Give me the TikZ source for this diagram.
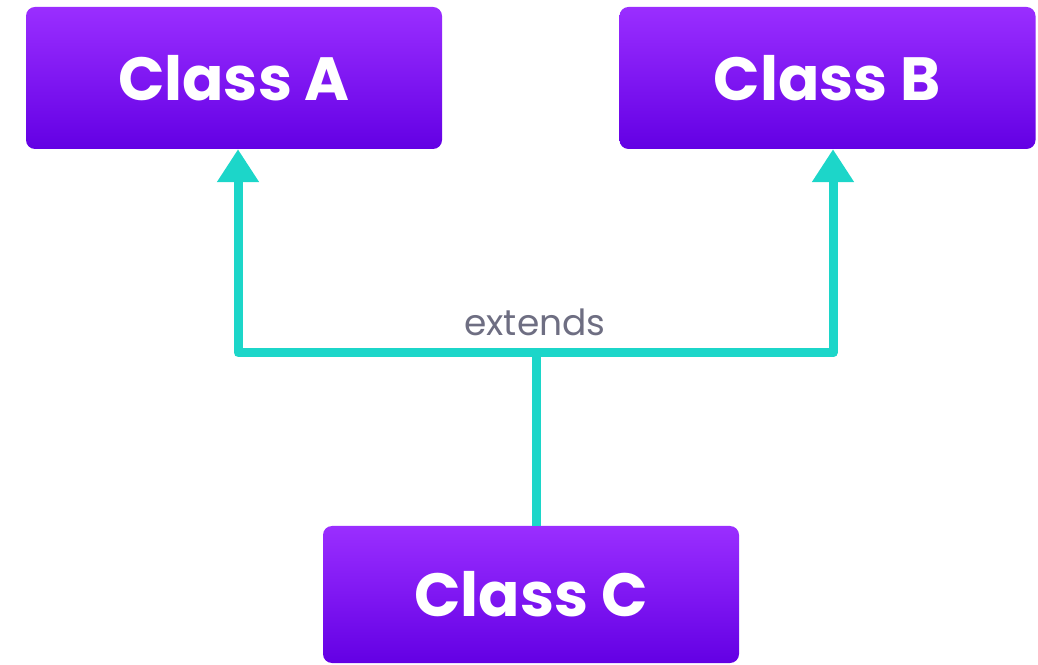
\documentclass[tikz,border=0pt]{standalone}
\usepackage{fontspec}
\setmainfont{Poppins}
\usepackage[HTML]{xcolor}
\usepackage{tikz}
\usetikzlibrary{positioning, arrows, arrows.meta}

\definecolor{boxtop}{HTML}{9A2EFF}
\definecolor{boxbot}{HTML}{6300E4}
\definecolor{linkteal}{HTML}{1CD6C9}
\definecolor{labelgray}{HTML}{6E6E82}

\begin{document}
\begin{tikzpicture}[x=1pt,y=1pt,
  classbox/.style={rounded corners=9pt,top color=boxtop,bottom color=boxbot,
    minimum width=416pt,minimum height=142pt,inner sep=0pt,
    text=white,font=\fontsize{61}{68}\selectfont\bfseries},
  link/.style={linkteal,line width=9pt,line join=round},
  linkhead/.style={link,-{Triangle[width=40pt,length=33pt]}}]
\useasboundingbox (0,0) rectangle (1038,664);
\node[classbox] (clsA) at (234,586) {Class A};
\node[classbox] (clsB) at (827.5,586) {Class B};
\node[classbox,minimum height=137pt] (clsC) at (531,69.5) {Class C};
\coordinate (hub) at (536,311);
\draw[link] ([xshift=5pt]clsC.north) -- (hub);
\draw[linkhead] (hub) -| ([xshift=4pt]clsA.south);
\draw[linkhead] (hub) -| ([xshift=5.5pt]clsB.south);
\node[labelgray,font=\fontsize{36}{42}\selectfont] (lblext) at (535,342) {extends};
\end{tikzpicture}
\end{document}
